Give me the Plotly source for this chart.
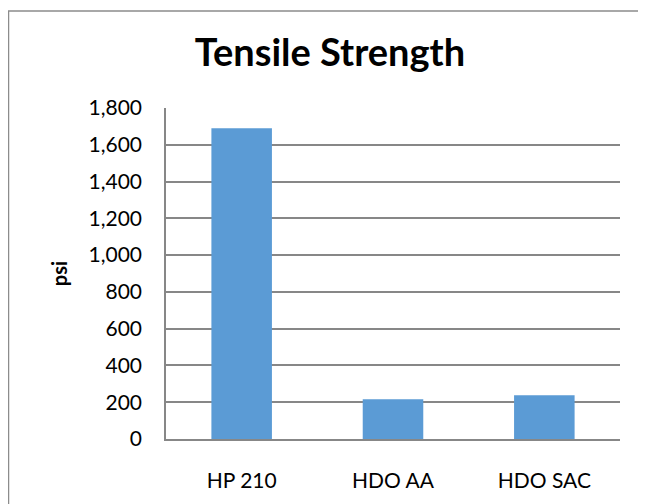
import plotly.graph_objects as go

categories = ["HP 210", "HDO AA", "HDO SAC"]
tensile_psi = [1690, 216, 238]
y_ticks = [0, 200, 400, 600, 800, 1000, 1200, 1400, 1600, 1800]

FONT = "Lato"
OFF = 8  # page body margin

W, H = 646 - OFF, 504 - OFF
L, R, T = 166 - OFF, 26, 108 - OFF
pw = W - L - R
ph = 442 - 108
B = H - T - ph


def px_x(x):
    return (x - OFF - L) / pw


def px_y(y):
    return (442 - y) / ph


fig = go.Figure()
fig.add_trace(go.Bar(
    x=categories, y=tensile_psi,
    marker=dict(color="#5b9bd5", line=dict(color="#5b9bd5", width=0)),
    width=0.4,
))

fig.update_layout(
    width=W, height=H,
    margin=dict(l=L, r=R, t=T, b=B),
    paper_bgcolor="white", plot_bgcolor="white",
    showlegend=False,
    font=dict(family=FONT, color="black", size=21),
    title=dict(text="<b>Tensile Strength</b>", x=px_x(330), xref="paper", xanchor="center",
               y=1 - (53 - OFF) / H, yanchor="middle",
               font=dict(family=FONT, size=38, color="black")),
    xaxis=dict(showgrid=False, showline=True, linecolor="#878787", linewidth=1.5,
               ticks="", ticklabelstandoff=22, tickfont=dict(size=21)),
    yaxis=dict(range=[0, 1800], tickvals=y_ticks, tickformat=",",
               showgrid=True, gridcolor="#878787", gridwidth=1.5,
               showline=True, linecolor="#878787", linewidth=1.5,
               zeroline=False, ticks="", ticklabelstandoff=18,
               tickfont=dict(size=21),
               title=dict(text="<b>psi</b>", font=dict(size=20), standoff=16)),
    shapes=[dict(type="rect", xref="paper", yref="paper",
                 x0=px_x(8.5), x1=px_x(645), y0=px_y(10), y1=px_y(540),
                 line=dict(color="#8c8c8c", width=1.5), fillcolor="rgba(0,0,0,0)",
                 layer="below")],
)

fig.write_html("out.html")
